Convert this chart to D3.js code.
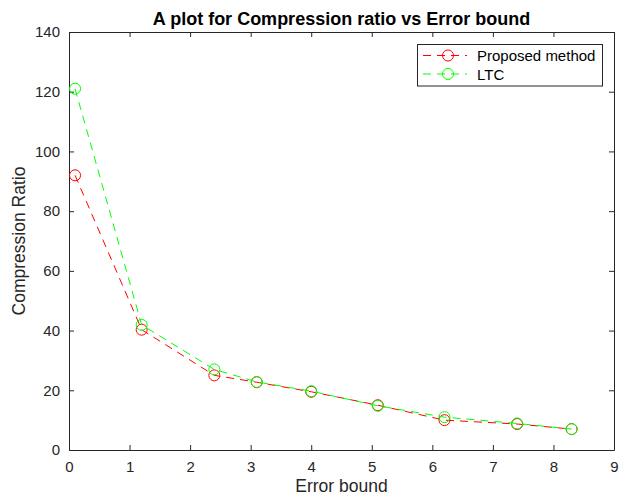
<!DOCTYPE html>
<html><head><meta charset="utf-8">
<script src="https://cdn.jsdelivr.net/npm/d3@7"></script>
<style>body{margin:0;background:#fff}svg{display:block}</style>
</head><body>
<svg id="c" width="619" height="497"></svg>
<script>
const errorBound = [0.1, 1.2, 2.4, 3.1, 4.0, 5.1, 6.2, 7.4, 8.3];
const proposed = [92, 40.3, 25, 22.7, 19.5, 15, 10, 8.7, 7];
const ltc = [121, 41.9, 27, 22.8, 19.7, 14.8, 11, 8.9, 7];
const xTicks = [0,1,2,3,4,5,6,7,8,9];
const yTicks = [0,20,40,60,80,100,120,140];
const seriesNames = ["Proposed method", "LTC"];
const seriesColors = ["#ff0000", "#00ff00"];

const svg = d3.select("#c");
const L = 69, R = 614, T = 32, B = 450;
const x = d3.scaleLinear().domain([0,9]).range([L,R]);
const y = d3.scaleLinear().domain([0,140]).range([B,T]);
const font = "'Liberation Sans', Arial, sans-serif";
const tc = "#262626";

const gx = svg.append("g").attr("transform",`translate(0,${B})`)
  .call(d3.axisBottom(x).tickValues(xTicks).tickSizeInner(-5).tickSizeOuter(0).tickPadding(11));
const gxt = svg.append("g").attr("transform",`translate(0,${T})`)
  .call(d3.axisTop(x).tickValues(xTicks).tickSizeInner(-5).tickSizeOuter(0).tickFormat(""));
const gy = svg.append("g").attr("transform",`translate(${L},0)`)
  .call(d3.axisLeft(y).tickValues(yTicks).tickSizeInner(-5).tickSizeOuter(0).tickPadding(9));
const gyr = svg.append("g").attr("transform",`translate(${R},0)`)
  .call(d3.axisRight(y).tickValues(yTicks).tickSizeInner(-5).tickSizeOuter(0).tickFormat(""));
[gx,gxt,gy,gyr].forEach(g=>{
  g.selectAll("path").attr("stroke",tc).attr("stroke-width",1);
  g.selectAll("line").attr("stroke",tc).attr("stroke-width",1);
  g.selectAll("text").attr("fill",tc).style("font-family",font).style("font-size","15px");
});

const data = [proposed, ltc];
const line = d3.line().x((d,i)=>x(errorBound[i])).y(d=>y(d));
data.forEach((s,k)=>{
  svg.append("path").datum(s).attr("d",line).attr("fill","none")
    .attr("stroke",seriesColors[k]).attr("stroke-width",1).attr("stroke-dasharray","8,6");
  svg.append("g").selectAll("circle").data(s).join("circle")
    .attr("cx",(d,i)=>x(errorBound[i])).attr("cy",d=>y(d)).attr("r",5.5)
    .attr("fill","none").attr("stroke",seriesColors[k]).attr("stroke-width",1);
});

svg.append("text").attr("x",(L+R)/2).attr("y",25).attr("text-anchor","middle")
  .style("font-family",font).style("font-size","18px").style("font-weight","bold").attr("fill","#000")
  .text("A plot for Compression ratio vs Error bound");
svg.append("text").attr("x",(L+R)/2).attr("y",492).attr("text-anchor","middle")
  .style("font-family",font).style("font-size","17.5px").attr("fill",tc).text("Error bound");
svg.append("text").attr("transform",`translate(25,${(T+B)/2}) rotate(-90)`).attr("text-anchor","middle")
  .style("font-family",font).style("font-size","17.5px").attr("fill",tc).text("Compression Ratio");

const lg = svg.append("g");
lg.append("rect").attr("x",417.5).attr("y",44.5).attr("width",185).attr("height",41.5)
  .attr("fill","#fff").attr("stroke","#262626").attr("stroke-width",1);
seriesNames.forEach((n,k)=>{
  const yy = 55.5 + k*18.5;
  lg.append("line").attr("x1",423).attr("x2",467).attr("y1",yy).attr("y2",yy)
    .attr("stroke",seriesColors[k]).attr("stroke-width",1).attr("stroke-dasharray","8,6");
  lg.append("circle").attr("cx",448).attr("cy",yy).attr("r",5.5).attr("fill","none")
    .attr("stroke",seriesColors[k]).attr("stroke-width",1);
  lg.append("text").attr("x",477).attr("y",yy+5.5).style("font-family",font).style("font-size","15px")
    .attr("fill","#000").text(n);
});
</script>
</body></html>
